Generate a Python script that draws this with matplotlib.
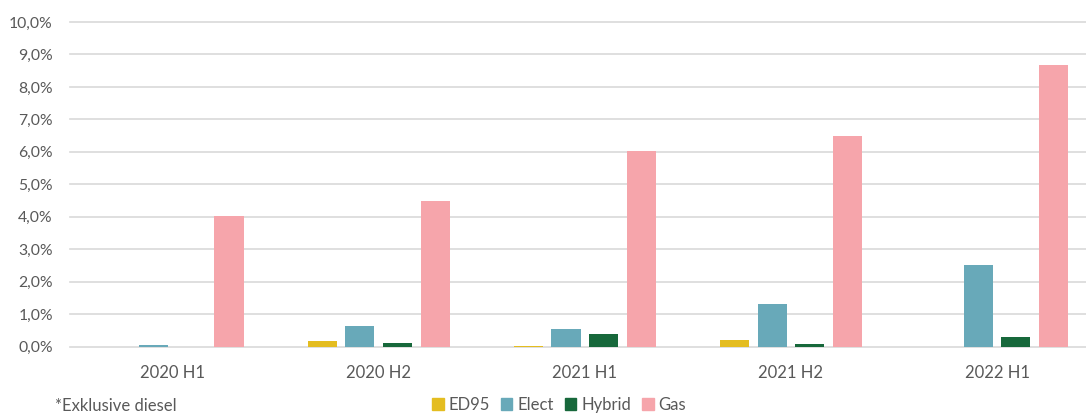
import numpy as np
import matplotlib
matplotlib.use('Agg')
import matplotlib.pyplot as plt
import matplotlib.patches as mpatches
from matplotlib.ticker import FuncFormatter, MultipleLocator

periods = ['2020 H1', '2020 H2', '2021 H1', '2021 H2', '2022 H1']
ed95 = [0.0, 0.17, 0.02, 0.19, 0.0]
elect = [0.06, 0.62, 0.55, 1.31, 2.52]
hybrid = [0.0, 0.12, 0.40, 0.09, 0.28]
gas = [4.03, 4.47, 6.02, 6.49, 8.67]

series_names = ['ED95', 'Elect', 'Hybrid', 'Gas']
series_vals = [ed95, elect, hybrid, gas]
colors = ['#E4BD20', '#68A9B9', '#17683B', '#F6A5AB']
textcol = '#595959'

plt.rcParams['font.family'] = ['Lato', 'DejaVu Sans']

fig = plt.figure(figsize=(10.86, 4.15), dpi=100)
ax = fig.add_axes([0.064, 0.165, 0.949, 0.782])

x = np.arange(len(periods))
step = 0.1825
width = 0.141
for i, (name, vals, c) in enumerate(zip(series_names, series_vals, colors)):
    ax.bar(x + (i - 1.5) * step, vals, width, color=c, label=name, zorder=3)

ax.set_xlim(-0.5, 4.5)
ax.set_ylim(0, 10)
ax.yaxis.set_major_locator(MultipleLocator(1))
ax.yaxis.set_major_formatter(FuncFormatter(lambda v, p: '{:.1f}%'.format(v).replace('.', ',')))
ax.set_xticks(x)
ax.set_xticklabels(periods)
ax.grid(axis='y', color='#D9D9D9', linewidth=1.2, zorder=0)
for gl in ax.get_ygridlines():
    gl.set_clip_on(False)
for s in ax.spines.values():
    s.set_visible(False)
ax.tick_params(axis='both', length=0, colors=textcol)
ax.tick_params(axis='y', pad=12, labelsize=11.3)
ax.tick_params(axis='x', pad=13, labelsize=12)

handles = [mpatches.Patch(color=c, label=n) for n, c in zip(series_names, colors)]
fig.legend(handles=handles, loc='center', bbox_to_anchor=(559 / 1086, 1 - 405 / 415),
           ncol=4, frameon=False, fontsize=12, labelcolor=textcol,
           handlelength=0.7, handleheight=0.7, handletextpad=0.3, columnspacing=0.65)

fig.text(55 / 1086, 1 - 406 / 415, '*Exklusive diesel', fontsize=12, color=textcol,
         ha='left', va='center')

fig.savefig('out.png', dpi=100)
